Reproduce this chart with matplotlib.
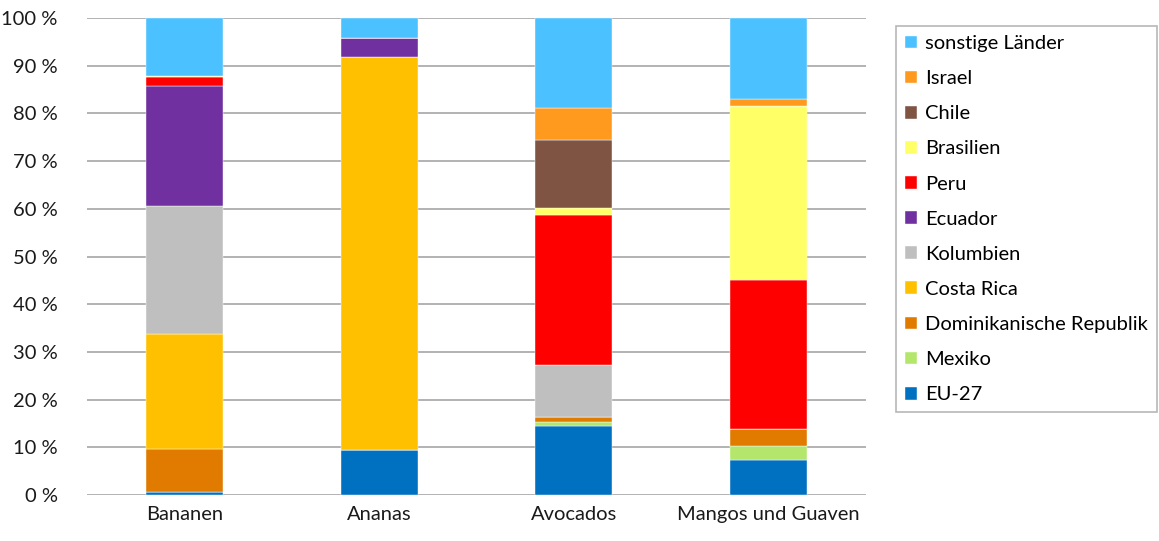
import numpy as np
import matplotlib.pyplot as plt
from matplotlib.ticker import FuncFormatter

plt.rcParams['font.family'] = ['Lato', 'DejaVu Sans']

products = ["Bananen", "Ananas", "Avocados", "Mangos und Guaven"]

# Anteile je Herkunft in Prozent (Reihenfolge von unten nach oben)
eu27 = [0.7, 9.5, 14.4, 7.4]
mexiko = [0.0, 0.0, 0.8, 2.9]
dom_rep = [9.0, 0.0, 1.1, 3.5]
costa_rica = [24.1, 82.3, 0.0, 0.0]
kolumbien = [26.7, 0.0, 10.9, 0.0]
ecuador = [25.3, 4.1, 0.0, 0.0]
peru = [1.8, 0.0, 31.6, 31.3]
brasilien = [0.2, 0.0, 1.4, 36.4]
chile = [0.0, 0.0, 14.2, 0.0]
israel = [0.0, 0.0, 6.7, 1.5]
sonstige = [12.2, 4.1, 18.9, 17.0]

series = [
    ("EU-27", eu27, "#0070C0"),
    ("Mexiko", mexiko, "#B3E66B"),
    ("Dominikanische Republik", dom_rep, "#E07B00"),
    ("Costa Rica", costa_rica, "#FFC000"),
    ("Kolumbien", kolumbien, "#BFBFBF"),
    ("Ecuador", ecuador, "#7030A0"),
    ("Peru", peru, "#FF0000"),
    ("Brasilien", brasilien, "#FFFF66"),
    ("Chile", chile, "#7F5442"),
    ("Israel", israel, "#FF9A1F"),
    ("sonstige Länder", sonstige, "#4BC1FF"),
]

fig = plt.figure(figsize=(11.59, 5.41), dpi=100)
ax = fig.add_axes([87 / 1159, 46 / 541, 779 / 1159, 477 / 541])

x = np.arange(len(products))
bottom = np.zeros(len(products))
for name, vals, col in series:
    ax.bar(x, vals, width=0.395, bottom=bottom, color=col, label=name,
           edgecolor="white", linewidth=0.3)
    bottom += np.array(vals)

ax.set_xlim(-0.5, len(products) - 0.5)
ax.set_ylim(0, 100)
ax.set_yticks(np.arange(0, 101, 10))
ax.yaxis.set_major_formatter(FuncFormatter(lambda v, p: f"{int(v)} %"))
ax.set_xticks(x)
ax.set_xticklabels(products)
ax.tick_params(axis="both", length=0, labelsize=14.5, colors="#1a1a1a")
ax.tick_params(axis="y", pad=21)
ax.tick_params(axis="x", pad=8)
ax.yaxis.grid(True, color="#A6A6A6", linewidth=1.2)
ax.set_axisbelow(True)
for s in ax.spines.values():
    s.set_visible(False)

handles, labels = ax.get_legend_handles_labels()
leg = fig.legend(handles[::-1], labels[::-1], loc="upper left",
                 bbox_to_anchor=(896 / 1159, 1 - 26 / 541),
                 fontsize=14.5, frameon=True, fancybox=False,
                 handlelength=0.6, handleheight=0.6, handletextpad=0.4,
                 labelspacing=0.9, borderpad=0.45, borderaxespad=0)
leg.get_frame().set_edgecolor("#A6A6A6")
leg.get_frame().set_linewidth(1.2)

fig.savefig("out.png", dpi=100)
